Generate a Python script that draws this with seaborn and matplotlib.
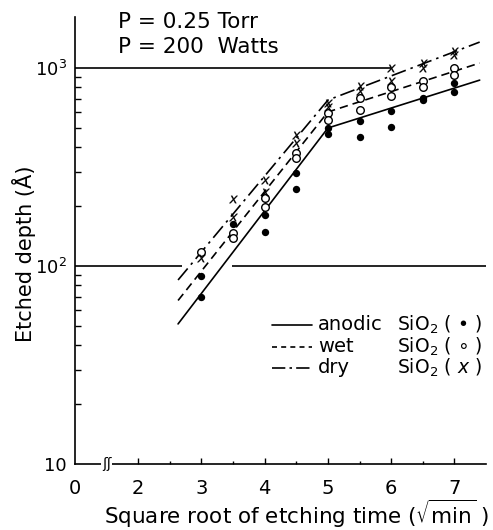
import numpy as np
import pandas as pd
import matplotlib
matplotlib.use("Agg")
import matplotlib.pyplot as plt
import seaborn as sns

# Measured etched depth (Å) versus square root of etching time (sqrt(min))
anodic_x = [3, 3, 3.5, 4, 4, 4.5, 4.5, 5, 5, 5.5, 5.5, 6, 6, 6.5, 6.5, 7, 7]
anodic_y = [89, 70, 163, 181, 149, 295, 245, 498, 465, 540, 449, 607, 504, 705, 690, 840, 760]

wet_x = [3, 3.5, 3.5, 4, 4, 4.5, 4.5, 5, 5, 5.5, 5.5, 6, 6, 6.5, 6.5, 7, 7]
wet_y = [118, 147, 138, 220, 199, 372, 351, 593, 546, 705, 614, 805, 720, 860, 800, 1000, 922]

dry_x = [3, 3.5, 3.5, 4, 4, 4.5, 4.5, 5, 5, 5.5, 5.5, 6, 6, 6.5, 6.5, 7, 7]
dry_y = [110, 218, 177, 272, 237, 459, 418, 665, 635, 810, 765, 995, 860, 1060, 1000, 1220, 1163]

# Two-segment fitted lines (start, knee, end)
fit_x = [2.63, 5.0, 7.4]
anodic_fit = [51, 498, 869]
wet_fit = [67, 600, 1060]
dry_fit = [85, 689, 1353]

x_ticks = [1, 2, 3, 4, 5, 6, 7]
x_tick_labels = ["0", "2", "3", "4", "5", "6", "7"]
y_ticks = [10, 100, 1000]
y_tick_labels = ["10", "$10^2$", "$10^3$"]

legend_names = ["anodic", "wet", "dry"]
legend_symbols = ["SiO$_2$ ( \u2022 )", "SiO$_2$ ( \u2218 )", "SiO$_2$ ( $\\mathit{x}$ )"]

sns.set_style("ticks")
plt.rcParams["font.family"] = ["DejaVu Sans"]
plt.rcParams["mathtext.default"] = "regular"
INK = "black"
for key in ("text.color", "axes.labelcolor", "xtick.color", "ytick.color", "axes.edgecolor"):
    plt.rcParams[key] = INK

LW = 1.2

fig = plt.figure(figsize=(4.93, 5.30), dpi=100)
ax = fig.add_axes([75 / 493, 1 - 464 / 530, (486 - 75) / 493, (464 - 17) / 530])
ax.set_yscale("log")
ax.set_xlim(1, 7.5)
ax.set_ylim(10, 1811)

# Partial reference lines at 10^2 and 10^3
ax.hlines([1000, 100, 100], [1, 1, 3.48], [6.0, 2.7, 7.5], color=INK, lw=LW, zorder=1)

# Fitted lines
sns.lineplot(x=fit_x, y=anodic_fit, ax=ax, color=INK, lw=LW, linestyle="-")
sns.lineplot(x=fit_x, y=wet_fit, ax=ax, color=INK, lw=LW, linestyle=(0, (5, 3)))
sns.lineplot(x=fit_x, y=dry_fit, ax=ax, color=INK, lw=LW, linestyle=(0, (9, 3, 1.5, 3)))

# Data points
sns.scatterplot(x=anodic_x, y=anodic_y, ax=ax, color=INK, marker="o", s=28,
                linewidth=0, legend=False, zorder=3)
sns.scatterplot(x=wet_x, y=wet_y, ax=ax, color=INK, facecolor="white", edgecolor=INK,
                marker="o", s=30, linewidth=1.0, legend=False, zorder=3)
sns.scatterplot(x=dry_x, y=dry_y, ax=ax, color=INK, edgecolor=INK,
                marker="$\\mathit{x}$", s=38, linewidth=0.15, legend=False, zorder=3)

# Axes styling
sns.despine(ax=ax, top=True, right=True)
for sp in ("left", "bottom"):
    ax.spines[sp].set_linewidth(LW)

ax.set_xticks(x_ticks)
ax.set_xticklabels(x_tick_labels, fontsize=14)
ax.set_xticks([2.5, 3.5, 4.5, 5.5, 6.5], minor=True)
ax.tick_params(axis="x", which="major", direction="in", length=4, width=1, pad=11)
ax.tick_params(axis="x", which="minor", direction="in", length=2.5, width=1)
ax.xaxis.get_major_ticks()[0].tick1line.set_visible(False)

ax.set_yticks(y_ticks)
ax.set_yticklabels(y_tick_labels, fontsize=13)
ax.yaxis.set_minor_locator(matplotlib.ticker.LogLocator(base=10, subs=np.arange(2, 10)))
ax.yaxis.set_minor_formatter(matplotlib.ticker.NullFormatter())
ax.tick_params(axis="y", which="major", direction="in", length=0, pad=6)
ax.tick_params(axis="y", which="minor", direction="in", length=4, width=1)

# Axis break mark
ax.text(1.5, 10, "\u0283\u0283", ha="center", va="center", fontsize=10,
        color=INK, clip_on=False, zorder=5,
        bbox=dict(boxstyle="square,pad=0.05", fc="white", ec="none"))

ax.set_xlabel("Square root of etching time ($\\sqrt{min}$ )", fontsize=15.5,
              va="baseline", ha="center")
ax.xaxis.set_label_coords(0.54, -0.134)
ax.set_ylabel("Etched depth (Å)", fontsize=15, va="center", ha="center")
ax.yaxis.set_label_coords(-0.125, 0.47)

# Process conditions
fig.text(118 / 493, 1 - 28 / 530, "P = 0.25 Torr", fontsize=15.5, va="baseline")
fig.text(118 / 493, 1 - 53 / 530, "P = 200  Watts", fontsize=15.5, va="baseline")

# Legend drawn as line samples with two text columns
row_y = [0.311, 0.262, 0.215]
styles = ["-", (0, (3, 2.5)), (0, (8, 2.5, 1.5, 2.5))]
for yy, st, name, sym in zip(row_y, styles, legend_names, legend_symbols):
    ax.plot([0.479, 0.577], [yy, yy], transform=ax.transAxes, color=INK, lw=LW,
            linestyle=st, clip_on=False)
    ax.text(0.591, yy, name, transform=ax.transAxes, fontsize=14, va="center")
    ax.text(0.783, yy, sym, transform=ax.transAxes, fontsize=13.5, va="center")

fig.savefig("out.png", dpi=100)
